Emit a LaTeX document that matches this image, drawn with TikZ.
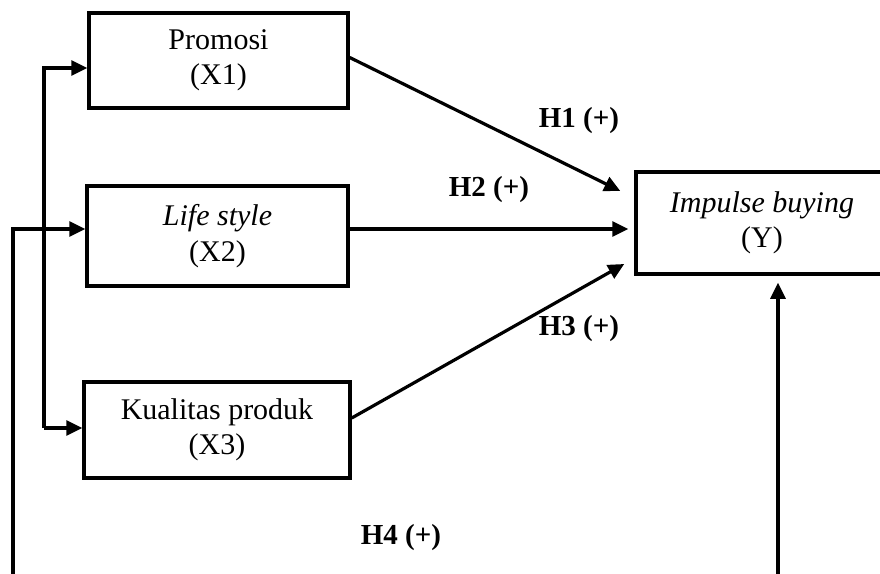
\documentclass[tikz,border=0pt]{standalone}
\usepackage{fontspec}
\setmainfont{Liberation Serif}
\usetikzlibrary{arrows.meta}
\begin{document}
\begin{tikzpicture}[x=1pt,y=-1pt,
  box/.style={draw,line width=3.5pt,inner sep=0pt,align=center,
    font=\fontsize{30}{35.5}\selectfont},
  arr/.style={line width=3.2pt,-{Triangle[length=16pt,width=15pt]}},
  hlab/.style={font=\fontsize{29}{34}\selectfont\bfseries}]
\useasboundingbox (0,0) rectangle (880,573);
\clip (0,0) rectangle (880,573);
\fill[white] (0,0) rectangle (880,573);
\node[box,minimum width=259pt,minimum height=95pt] (X1) at (218.5,60.5) {Promosi\\(X1)};
\node[box,minimum width=261pt,minimum height=100pt] (X2) at (217.5,236) {\itshape Life style\\(X2)};
\node[box,minimum width=266pt,minimum height=96pt] (X3) at (217,430) {Kualitas produk\\(X3)};
\node[box,minimum width=252pt,minimum height=102pt] (Y) at (762,223) {\itshape Impulse buying\\(Y)};
\draw[arr] ([yshift=3pt]X1.east) -- ([xshift=-14pt,yshift=32pt]Y.west);
\draw[arr] ([yshift=7pt]X2.east) -- ([xshift=-6pt,yshift=-6pt]Y.west);
\draw[arr] ([yshift=12pt]X3.east) -- ([xshift=-10pt,yshift=-41pt]Y.west);
\node[hlab] (h1) at (579,121) {H1 (+)};
\node[hlab] (h2) at (489,190) {H2 (+)};
\node[hlab] (h3) at (579,329) {H3 (+)};
\node[hlab] (h4) at (401,538) {H4 (+)};
\coordinate (b1) at (44,68);
\coordinate (b3) at (44,428);
\draw[arr] (b3) -- (b1) -- ([yshift=-7.5pt]X1.west);
\draw[arr] (b3) -- ([yshift=2pt]X3.west);
\coordinate (o1) at (13,580);
\coordinate (o2) at (13,229);
\draw[arr] (o1) -- (o2) -- ([yshift=7pt]X2.west);
\coordinate (r1) at (778,580);
\draw[arr] (r1) -- ([xshift=16pt,yshift=-7pt]Y.south);
\end{tikzpicture}
\end{document}
